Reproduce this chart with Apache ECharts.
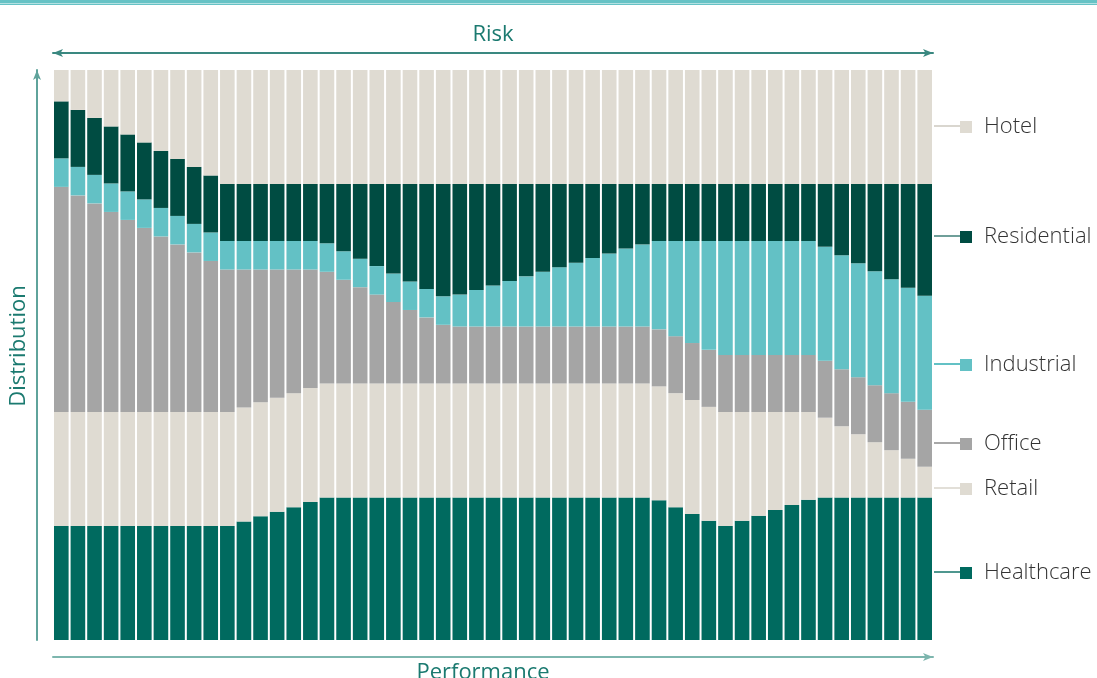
<!DOCTYPE html>
<html>
<head>
<meta charset="utf-8">
<script src="https://cdn.jsdelivr.net/npm/echarts/dist/echarts.min.js"></script>
<style>
  html, body { margin: 0; padding: 0; background: #fff; }
  #chart { width: 1097px; height: 678px; }
</style>
</head>
<body>
<div id="chart"></div>
<script>
// 53 positions along the performance axis
var categories = [];
for (var i = 1; i <= 53; i++) categories.push(String(i));

// shares per sector, bottom to top (percent)
var healthcare = [20, 20, 20, 20, 20, 20, 20, 20, 20, 20, 20,
  20.8, 21.7, 22.5, 23.3, 24.2,
  25, 25, 25, 25, 25, 25, 25, 25, 25, 25, 25, 25, 25, 25, 25, 25, 25, 25, 25, 25,
  24.5, 23.3, 22.1, 20.9, 20.0, 20.9, 21.8, 22.8, 23.7, 24.6,
  25, 25, 25, 25, 25, 25, 25];
var retail = [20, 20, 20, 20, 20, 20, 20, 20, 20, 20, 20,
  20, 20, 20, 20, 20, 20, 20, 20, 20, 20, 20, 20, 20, 20, 20, 20, 20, 20, 20,
  20, 20, 20, 20, 20, 20, 20, 20, 20, 20, 20,
  19.1, 18.2, 17.2, 16.3, 15.4,
  14.0, 12.5, 11.1, 9.7, 8.3, 6.8, 5.4];
var office = [39.5, 38.0, 36.6, 35.1, 33.7, 32.3, 30.8, 29.4, 28.0, 26.5, 25.0,
  24.2, 23.3, 22.5, 21.7, 20.8,
  19.6, 18.2, 16.9, 15.6, 14.3, 12.9, 11.6, 10.3,
  10, 10, 10, 10, 10, 10, 10, 10, 10, 10, 10, 10, 10, 10, 10,
  10, 10, 10, 10, 10, 10, 10, 10, 10, 10, 10, 10, 10, 10];
var industrial = [5, 5, 5, 5, 5, 5, 5, 5, 5, 5, 5, 5, 5, 5, 5, 5, 5, 5, 5, 5, 5, 5, 5, 5,
  5.6, 6.4, 7.2, 8.0, 8.8, 9.6, 10.4, 11.2, 12.0, 12.8, 13.7, 14.4,
  15.5, 16.7, 17.9, 19.1,
  20, 20, 20, 20, 20, 20, 20, 20, 20, 20, 20, 20, 20];
var residential = [10, 10, 10, 10, 10, 10, 10, 10, 10, 10, 10,
  10, 10, 10, 10, 10,
  10.4, 11.8, 13.1, 14.4, 15.7, 17.1, 18.4, 19.7,
  19.4, 18.6, 17.8, 17.0, 16.2, 15.4, 14.6, 13.8, 13.0, 12.2, 11.3, 10.6,
  10, 10, 10, 10, 10, 10, 10, 10, 10, 10,
  11.0, 12.5, 13.9, 15.3, 16.7, 18.2, 19.6];
var hotel = [5.5, 7.0, 8.4, 9.9, 11.3, 12.7, 14.2, 15.6, 17.0, 18.5, 20,
  20, 20, 20, 20, 20, 20, 20, 20, 20, 20, 20, 20, 20, 20, 20, 20, 20, 20, 20, 20,
  20, 20, 20, 20, 20, 20, 20, 20, 20, 20, 20, 20, 20, 20, 20, 20, 20, 20, 20, 20,
  20, 20];

var font = 'Open Sans';
var teal = '#1b7a70';

var sectors = [
  { name: 'Healthcare', data: healthcare, color: '#006a5f', line: '#4f978f', y: 572 },
  { name: 'Retail', data: retail, color: '#dfdbd2', line: '#e2dfd8', y: 488 },
  { name: 'Office', data: office, color: '#a5a5a5', line: '#a8a8a8', y: 443 },
  { name: 'Industrial', data: industrial, color: '#63c1c5', line: '#63c1c5', y: 364 },
  { name: 'Residential', data: residential, color: '#004c42', line: '#6f9f99', y: 236 },
  { name: 'Hotel', data: hotel, color: '#dfdbd2', line: '#d9d6cf', y: 126 }
];

var chart = echarts.init(document.getElementById('chart'));

var series = sectors.map(function (s) {
  return {
    name: s.name,
    type: 'bar',
    stack: 'total',
    barCategoryGap: '12%',
    data: s.data,
    itemStyle: { color: s.color },
    emphasis: { disabled: true }
  };
});

// one legend per sector, placed next to the right edge
var legends = sectors.map(function (s) {
  return {
    data: [{ name: s.name, icon: 'rect' }],
    left: 955,
    top: s.y - 15,
    itemWidth: 12,
    itemHeight: 12,
    selectedMode: false,
    textStyle: { fontFamily: font, fontWeight: 300, fontSize: 22, color: '#333', padding: [0, 0, 0, 7] }
  };
});

var graphics = [
  { type: 'rect', shape: { x: 0, y: 0, width: 1097, height: 5 }, style: { fill: '#66c2c5' } },
  { type: 'rect', shape: { x: 0, y: 3, width: 1097, height: 1 }, style: { fill: '#b4e1e2' } }
];
sectors.forEach(function (s) {
  graphics.push({
    type: 'line',
    shape: { x1: 934, y1: s.y, x2: 960, y2: s.y },
    style: { stroke: s.line, lineWidth: 2 }
  });
});

chart.setOption({
  animation: false,
  grid: { left: 53, right: 164, top: 70, bottom: 38, outerBoundsMode: 'none' },
  legend: legends,
  xAxis: [
    {
      type: 'category',
      data: categories,
      position: 'bottom',
      offset: 17,
      name: 'Performance',
      nameLocation: 'middle',
      nameGap: 5,
      nameTextStyle: { fontFamily: font, fontSize: 22, color: teal, verticalAlign: 'top', padding: [0, 20, 0, 0] },
      axisLine: { show: true, onZero: false, symbol: ['none', 'arrow'], symbolSize: [6, 10], lineStyle: { color: '#7db6ae', width: 2 } },
      axisTick: { show: false },
      axisLabel: { show: false }
    },
    {
      type: 'category',
      data: categories,
      position: 'top',
      offset: 17,
      name: 'Risk',
      nameLocation: 'middle',
      nameGap: 7,
      nameTextStyle: { fontFamily: font, fontSize: 22, color: teal },
      axisLine: { show: true, onZero: false, symbol: ['arrow', 'arrow'], symbolSize: [6, 10], lineStyle: { color: '#3a8880', width: 2 } },
      axisTick: { show: false },
      axisLabel: { show: false }
    }
  ],
  yAxis: {
    type: 'value',
    min: 0,
    max: 100,
    offset: 16,
    name: 'Distribution',
    nameLocation: 'middle',
    nameGap: 7,
    nameRotate: 90,
    nameTextStyle: { fontFamily: font, fontSize: 22, color: teal, padding: [0, 0, 0, 18] },
    axisLine: { show: true, onZero: false, symbol: ['none', 'arrow'], symbolSize: [6, 10], lineStyle: { color: '#5fa39b', width: 2 } },
    axisTick: { show: false },
    axisLabel: { show: false },
    splitLine: { show: false }
  },
  series: series,
  graphic: graphics
});
</script>
</body>
</html>
